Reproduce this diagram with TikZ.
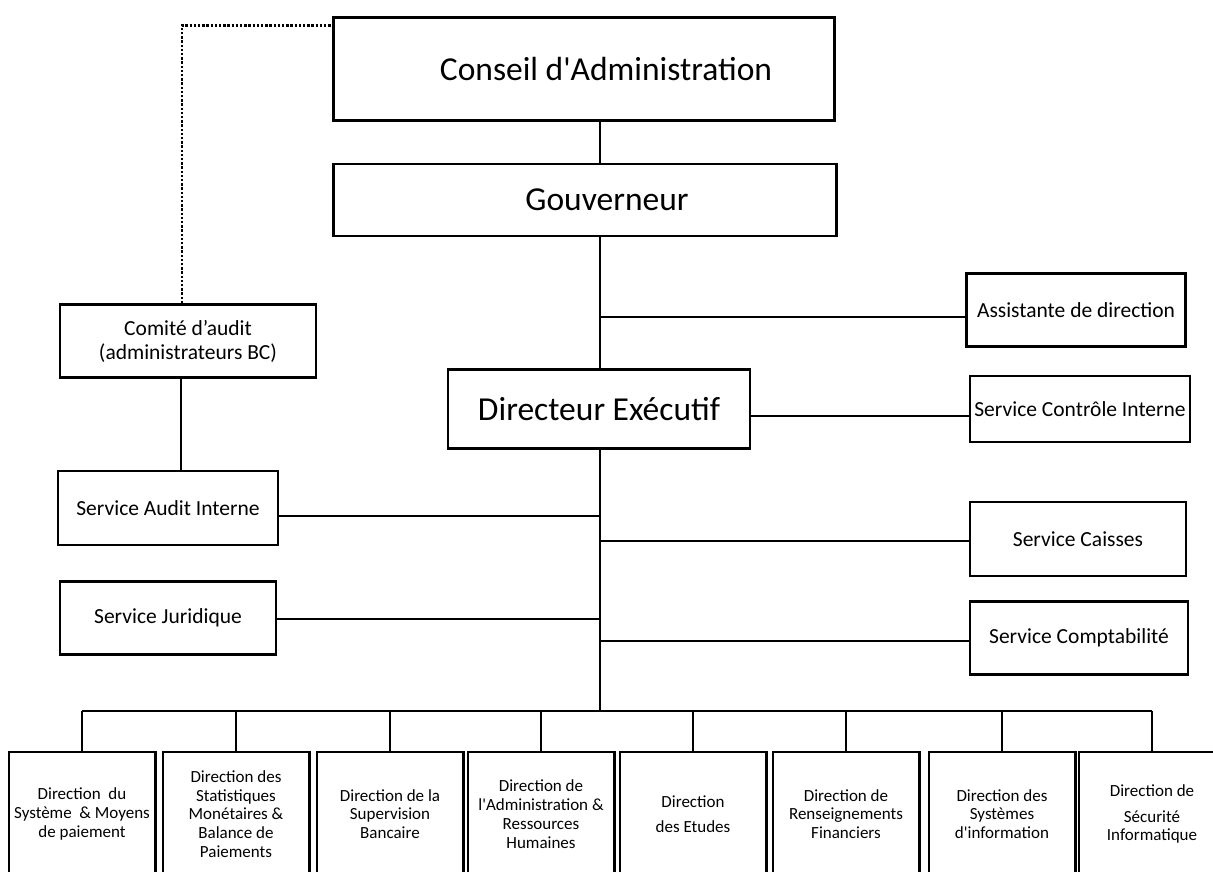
\documentclass[tikz,border=0pt]{standalone}
\usepackage{fontspec}
\newfontfamily\orgfont{Carlito}
\tikzset{
  boxline/.style={line width=2.6pt},
  link/.style={line width=2.6pt},
  dotline/.style={line width=2.6pt, dash pattern=on 2.4pt off 1.8pt},
  orgbox/.style={draw, boxline, align=center, inner sep=2pt},
  topfont/.style={font=\orgfont\fontsize{33.5}{38}\selectfont},
  servfont/.style={font=\orgfont\fontsize{21.5}{24}\selectfont},
  dirtext/.style={minimum width=146, inner sep=0pt, align=center, font=\orgfont\fontsize{17}{18.8}\selectfont},
}
\begin{document}
\begin{tikzpicture}[x=1pt,y=-1pt]
    \useasboundingbox (0,0) rectangle (1213,871);
    \clip (0,0) rectangle (1213,871);
    \coordinate (spine) at (600,0);
    \coordinate (bar) at (0,711);
    \coordinate (bartop) at (0,752);
    \coordinate (pagebot) at (0,900);
    % board, governor, executive
    \node[orgbox, topfont, minimum width=501, minimum height=103] (conseil) at (584,69) {\hspace*{44pt}Conseil d'Administration};
    \node[orgbox, topfont, minimum width=503, minimum height=72] (gouv) at (585,200) {\hspace*{44pt}Gouverneur};
    \node[orgbox, topfont, minimum width=302, minimum height=79] (dirx) at (599,409) {Directeur Exécutif};
    % side services
    \node[orgbox, servfont, minimum width=219, minimum height=73] (assist) at (1076,310) {Assistante de direction};
    \node[orgbox, servfont, minimum width=220, minimum height=66, inner sep=0pt] (ctrl) at (1080,409) {Service Contrôle Interne};
    \node[orgbox, servfont, minimum width=256, minimum height=73] (comite) at (188,341) {Comité d’audit\\(administrateurs BC)};
    \node[orgbox, servfont, minimum width=220, minimum height=74] (audit) at (168,508) {Service Audit Interne};
    \node[orgbox, servfont, minimum width=216, minimum height=73] (jur) at (168,618) {Service Juridique};
    \node[orgbox, servfont, minimum width=216, minimum height=74] (caisse) at (1078,539) {Service Caisses};
    \node[orgbox, servfont, minimum width=218, minimum height=73] (compta) at (1079,638) {Service Comptabilité};
    % main line
    \draw[link] (conseil.south -| spine) -- (gouv.north -| spine);
    \draw[link] (gouv.south -| spine) -- (dirx.north -| spine);
    \draw[link] (dirx.south -| spine) -- (spine |- bar);
    % audit committee
    \draw[dotline] (comite.north -| 182,0) |- ([yshift=-9pt]conseil.north west);
    \draw[link] (comite.south -| 181,0) -- (audit.north -| 181,0);
    % side links
    \draw[link] (spine |- 0,317) -- (assist.west |- 0,317);
    \draw[link] (dirx.east |- 0,416) -- (ctrl.west |- 0,416);
    \draw[link] (audit.east |- 0,516) -- (spine |- 0,516);
    \draw[link] (spine |- 0,541) -- (caisse.west |- 0,541);
    \draw[link] (jur.east |- 0,619) -- (spine |- 0,619);
    \draw[link] (spine |- 0,641) -- (compta.west |- 0,641);
    % directions
    \foreach \i/\x/\t in {1/82/{Direction\ \ du\\Système \ \& Moyens\\de paiement},
        2/236/{Direction des\\Statistiques\\Monétaires \&\\Balance de\\Paiements},
        3/390/{Direction de la\\Supervision\\Bancaire},
        4/541/{Direction de\\l'Administration \&\\Ressources\\Humaines},
        5/693/{Direction\\[6pt]des Etudes},
        6/846/{Direction de\\Renseignements\\Financiers},
        7/1002/{Direction des\\Systèmes\\d'information},
        8/1152/{Direction de\\[7pt]Sécurité\\Informatique}} {
        \node[dirtext] (d\i) at (\x,814) {\t};
        \draw[boxline] (d\i.west |- bartop) rectangle (d\i.east |- pagebot);
        \draw[link] (d\i |- bar) -- (d\i |- bartop);
    }
    \draw[link] (d1 |- bar) -- (d8 |- bar);
\end{tikzpicture}
\end{document}
